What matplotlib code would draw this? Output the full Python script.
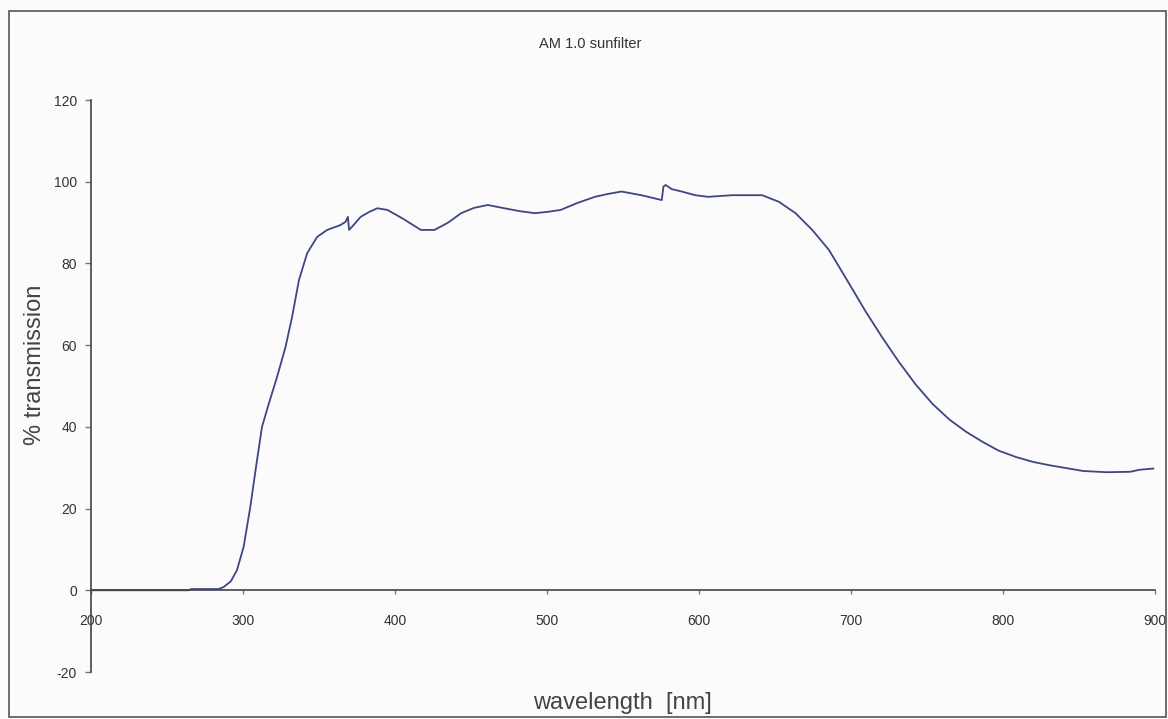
import numpy as np
import matplotlib.pyplot as plt
from matplotlib.patches import Rectangle

# transmission curve
wavelength = [200, 240, 264, 266, 284, 287.3, 292, 296, 300.4, 304.8, 309.2, 312.5, 317, 322.4,
              328, 332.3, 336.8, 342.2, 348.8, 355.4, 364.2, 367.5, 369, 369.8, 373, 377.4, 383,
              388.4, 395, 405, 417, 426, 435, 443.5, 452, 461, 472, 482, 492, 500, 509, 520,
              531.5, 540, 549, 562, 570, 575.5, 576.6, 578, 582, 588.6, 597.5, 606, 621.6,
              641.5, 652.5, 663.5, 674.5, 685.5, 698.7, 709.7, 720.7, 731.7, 742.7, 753.7,
              764.7, 775.7, 786.7, 797, 808.7, 820, 830.7, 852.7, 868, 883.5, 890, 898.9]
transmission = [0, 0, 0, 0.3, 0.3, 0.8, 2.2, 4.9, 10.6, 20.4, 31.8, 40, 45.7, 52.2,
                59.6, 66.9, 75.9, 82.5, 86.5, 88.2, 89.4, 90.2, 91.4, 88.2, 89.5, 91.4, 92.6,
                93.5, 93.1, 91.0, 88.2, 88.2, 90.0, 92.3, 93.6, 94.3, 93.5, 92.8, 92.3, 92.6,
                93.1, 94.8, 96.3, 97.0, 97.6, 96.7, 96.0, 95.5, 98.8, 99.2, 98.2, 97.6, 96.7,
                96.3, 96.7, 96.7, 95.1, 92.3, 88.2, 83.3, 75.1, 68.2, 61.8, 55.8, 50.3, 45.6,
                41.8, 38.8, 36.3, 34.2, 32.6, 31.4, 30.6, 29.2, 28.9, 29.0, 29.5, 29.8]

xticks = [200, 300, 400, 500, 600, 700, 800, 900]
yticks = [-20, 0, 20, 40, 60, 80, 100, 120]

line_color = "#3d4680"
text_color = "#333333"
font = "Liberation Sans"

fig = plt.figure(figsize=(11.68, 7.19), dpi=100)
fig.patch.set_facecolor("#fbfbfc")
ax = fig.add_axes([91 / 1168, 1 - 672 / 719, (1155 - 91) / 1168, (672 - 100) / 719])
ax.set_facecolor("none")

ax.plot(wavelength, transmission, color=line_color, linewidth=1.3)

ax.set_xlim(200, 900)
ax.set_ylim(-20, 120)
ax.spines["top"].set_visible(False)
ax.spines["right"].set_visible(False)
ax.spines["bottom"].set_position(("data", 0))
for s in ("left", "bottom"):
    ax.spines[s].set_color("#444444")
    ax.spines[s].set_linewidth(1.2)

ax.set_xticks(xticks)
ax.set_yticks(yticks)
ax.set_xticklabels([str(v) for v in xticks], fontsize=10, color=text_color, family=font)
ax.set_yticklabels([str(v) for v in yticks], fontsize=10, color=text_color, family=font)
ax.tick_params(axis="x", direction="out", length=3, width=1, colors="#777777",
               labelcolor=text_color, pad=14)
ax.tick_params(axis="y", direction="out", length=4, width=1, colors="#777777",
               labelcolor=text_color, pad=6)

fig.text(590 / 1168, 1 - 44 / 719, "AM 1.0 sunfilter", ha="center", va="center",
         fontsize=10.5, color=text_color, family=font)
fig.text(35 / 1168, 1 - 365 / 719, "% transmission", ha="center", va="center",
         rotation=90, fontsize=17, color="#444444", family=font)
fig.text(622 / 1168, 1 - 703 / 719, "wavelength  [nm]", ha="center", va="center",
         fontsize=17, color="#444444", family=font)

fig.patches.append(Rectangle((9 / 1168, 2 / 719), 1157 / 1168, 706 / 719,
                             transform=fig.transFigure, fill=False,
                             edgecolor="#555555", linewidth=1.2))

fig.savefig("out.png", dpi=100, facecolor=fig.get_facecolor())
plt.close("all")
